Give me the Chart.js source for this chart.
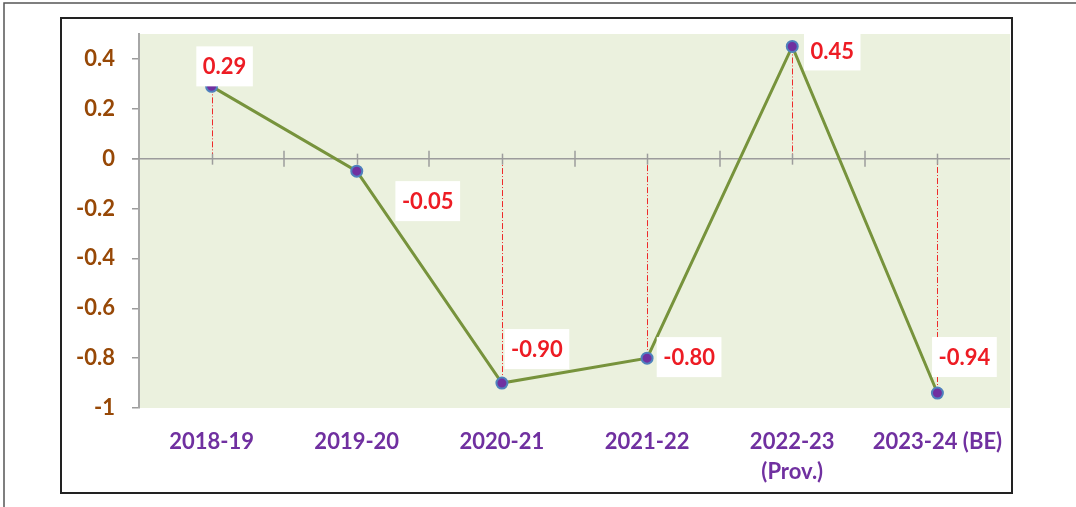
<!DOCTYPE html>
<html>
<head>
<meta charset="utf-8">
<script src="https://cdn.jsdelivr.net/npm/chart.js@4.4.1/dist/chart.umd.min.js"></script>
<style>
  html, body { margin: 0; padding: 0; background: #fff; }
  #wrap { width: 1076px; height: 507px; }
</style>
</head>
<body>
<div id="wrap"><canvas id="growthChart" width="1076" height="507"></canvas></div>
<script>
// chart data
const years = [["2018-19"], ["2019-20"], ["2020-21"], ["2021-22"], ["2022-23", "(Prov.)"], ["2023-24 (BE)"]];
const growth = [0.29, -0.05, -0.90, -0.80, 0.45, -0.94];
const yTicks = [-1, -0.8, -0.6, -0.4, -0.2, 0, 0.2, 0.4];
const yTickLabels = ["-1", "-0.8", "-0.6", "-0.4", "-0.2", "0", "0.2", "0.4"];

// where each value box sits relative to its point (px)
const labelOffsets = [[13, -20], [71, 30], [35, -34], [42, -1], [40, 4], [27, -36]];

const FONT = "Lato, 'Open Sans', sans-serif";

// frames + plot background
const framePlugin = {
  id: "frames",
  beforeDraw(chart) {
    const { ctx, chartArea } = chart;
    ctx.save();
    ctx.strokeStyle = "#555";
    ctx.lineWidth = 1.5;
    ctx.beginPath();
    ctx.moveTo(4, 507);
    ctx.lineTo(4, 3);
    ctx.lineTo(1076, 3);
    ctx.stroke();

    ctx.strokeStyle = "#222";
    ctx.lineWidth = 2;
    ctx.strokeRect(61, 18, 951, 475);

    ctx.fillStyle = "#EBF1DE";
    ctx.fillRect(chartArea.left, chartArea.top, chartArea.right - chartArea.left, chartArea.bottom - chartArea.top);
    ctx.restore();
  }
};

// zero line with category ticks, and drop lines from each point
const zeroLinePlugin = {
  id: "zeroLine",
  beforeDatasetsDraw(chart) {
    const { ctx, chartArea, scales } = chart;
    const x = scales.x, y = scales.y;
    const y0 = y.getPixelForValue(0);
    ctx.save();

    // drop lines
    ctx.strokeStyle = "#EE2A2A";
    ctx.lineWidth = 1;
    ctx.setLineDash([6, 2, 1, 2]);
    growth.forEach((v, i) => {
      const px = Math.round(x.getPixelForValue(i)) + 0.5;
      ctx.beginPath();
      ctx.moveTo(px, y.getPixelForValue(v));
      ctx.lineTo(px, y0);
      ctx.stroke();
    });
    ctx.setLineDash([]);

    ctx.strokeStyle = "#9C9C9C";
    ctx.lineWidth = 1.5;
    ctx.beginPath();
    ctx.moveTo(chartArea.left - 7, y0);
    ctx.lineTo(chartArea.right, y0);
    ctx.stroke();

    // boundary ticks
    const step = (chartArea.right - chartArea.left) / years.length;
    for (let i = 1; i < years.length; i++) {
      const bx = Math.round(chartArea.left + step * i);
      ctx.beginPath();
      ctx.moveTo(bx, y0 - 8);
      ctx.lineTo(bx, y0 + 8);
      ctx.stroke();
    }
    // centre ticks
    growth.forEach((v, i) => {
      const px = Math.round(x.getPixelForValue(i)) + 0.5;
      ctx.beginPath();
      ctx.moveTo(px, y0 - 5);
      ctx.lineTo(px, y0 + 6);
      ctx.stroke();
    });
    ctx.restore();
  }
};

// value boxes
const valueLabelPlugin = {
  id: "valueLabels",
  afterDatasetsDraw(chart) {
    const { ctx } = chart;
    const meta = chart.getDatasetMeta(0);
    ctx.save();
    ctx.font = "bold 22px " + FONT;
    ctx.textAlign = "center";
    ctx.textBaseline = "middle";
    meta.data.forEach((pt, i) => {
      const txt = growth[i].toFixed(2);
      const cx = pt.x + labelOffsets[i][0];
      const cy = pt.y + labelOffsets[i][1];
      const w = ctx.measureText(txt).width + 13;
      const h = 40;
      ctx.fillStyle = "#fff";
      ctx.fillRect(cx - w / 2, cy - h / 2, w, h);
      ctx.fillStyle = "#ED1C24";
      ctx.fillText(txt, cx, cy + 1);
    });
    ctx.restore();
  }
};

new Chart(document.getElementById("growthChart"), {
  type: "line",
  data: {
    labels: years,
    datasets: [{
      data: growth,
      borderColor: "#77933C",
      borderWidth: 3,
      tension: 0,
      pointRadius: 5.5,
      pointBackgroundColor: "#7030A0",
      pointBorderColor: "#4F81BD",
      pointBorderWidth: 2
    }]
  },
  options: {
    responsive: false,
    animation: false,
    devicePixelRatio: 1,
    layout: { padding: { left: 62, top: 34, right: 66, bottom: 14 } },
    plugins: {
      legend: { display: false },
      tooltip: { enabled: false }
    },
    scales: {
      x: {
        type: "category",
        offset: true,
        grid: { display: false, drawTicks: false },
        border: { display: false },
        afterFit(axis) { axis.height = 85; },
        ticks: {
          color: "#7030A0",
          padding: 19,
          maxRotation: 0,
          autoSkip: false,
          font: { family: FONT, size: 22, weight: "bold", lineHeight: 1.35 }
        }
      },
      y: {
        min: -1,
        max: 0.5,
        afterFit(axis) { axis.width = 77; },
        afterBuildTicks(axis) { axis.ticks = yTicks.map(v => ({ value: v })); },
        grid: { drawOnChartArea: false, tickLength: 7, color: "#9C9C9C", lineWidth: 1.5 },
        border: { display: true, color: "#A6A6A6", width: 2 },
        ticks: {
          color: "#974806",
          padding: 17,
          font: { family: FONT, size: 22, weight: "bold" },
          callback(value) {
            const k = yTicks.findIndex(t => Math.abs(t - value) < 1e-9);
            return k >= 0 ? yTickLabels[k] : "";
          }
        }
      }
    }
  },
  plugins: [framePlugin, zeroLinePlugin, valueLabelPlugin]
});
</script>
</body>
</html>
